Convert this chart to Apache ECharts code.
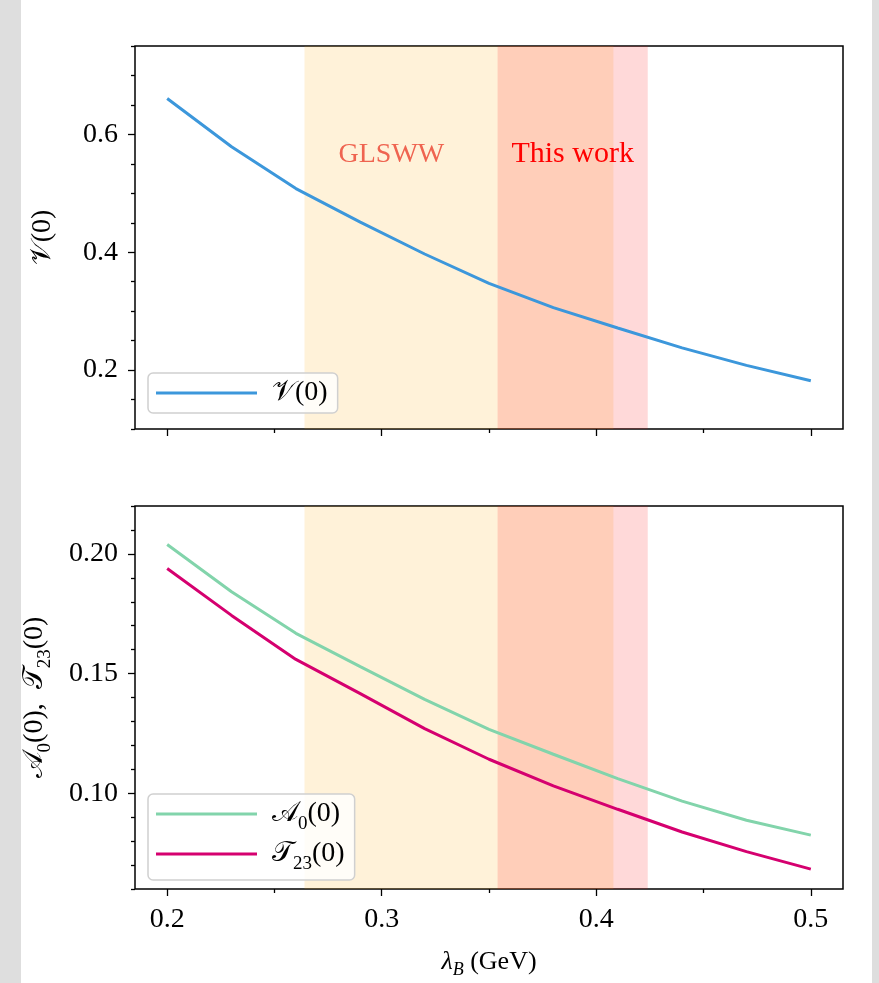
<!DOCTYPE html>
<html>
<head>
<meta charset="utf-8">
<script src="https://cdn.jsdelivr.net/npm/echarts@6/dist/echarts.min.js"></script>
<style>
  html, body { margin: 0; padding: 0; background: #dedede; }
  #sheet { position: absolute; left: 21px; top: 0; width: 851px; height: 983px; background: #ffffff; }
  #chart { position: absolute; left: 0; top: 0; width: 879px; height: 983px; }
</style>
</head>
<body>
<div id="sheet"></div>
<div id="chart"></div>
<script>
// λ_B grid (GeV) and the form factors at q² = 0
const lambdaB = [0.20, 0.23, 0.26, 0.29, 0.32, 0.35, 0.38, 0.41, 0.44, 0.47, 0.50];
const V0  = [0.661, 0.579, 0.508, 0.451, 0.397, 0.347, 0.306, 0.2715, 0.2376, 0.208, 0.182];
const A0  = [0.2039, 0.1842, 0.1668, 0.1529, 0.1392, 0.1267, 0.1163, 0.1061, 0.0967, 0.0887, 0.0825];
const T23 = [0.1939, 0.1743, 0.1559, 0.1416, 0.1270, 0.1142, 0.1031, 0.0933, 0.0838, 0.0756, 0.0683];

// λ_B ranges
const bandGLSWW    = [0.264, 0.408];
const bandThisWork = [0.354, 0.424];

// axis ticks
const xMajor = [0.2, 0.3, 0.4, 0.5];
const xMinor = [0.25, 0.35, 0.45];
const yTopMajor = [0.2, 0.4, 0.6];
const yBotMajor = [0.10, 0.15, 0.20];

const SERIF = '"Liberation Serif", "Times New Roman", "DejaVu Serif", serif';
const pairs = ys => lambdaB.map((x, i) => [x, ys[i]]);

const chart = echarts.init(document.getElementById('chart'), null, { renderer: 'canvas' });

const tickStyle = { color: '#000', width: 1.3 };
function xAxes(gridIndex, withLabels) {
  return [
    {
      type: 'value', gridIndex, min: 0.185, max: 0.515, position: 'bottom',
      axisLine: { show: false }, splitLine: { show: false },
      axisTick: { show: true, inside: false, length: 7, lineStyle: tickStyle, customValues: xMajor },
      axisLabel: { show: withLabels, customValues: xMajor, margin: 17, color: '#000',
                   fontFamily: SERIF, fontSize: 28, formatter: v => String(v) }
    },
    {
      type: 'value', gridIndex, min: 0.185, max: 0.515, position: 'bottom',
      axisLine: { show: false }, splitLine: { show: false },
      axisTick: { show: true, inside: false, length: 4, lineStyle: tickStyle, customValues: xMinor },
      axisLabel: { show: false }
    }
  ];
}
function yAxes(gridIndex, min, max, major, minorStep, digits) {
  const minor = [];
  for (let k = 0; min + k * minorStep <= max + 1e-9; k++) {
    const v = +(min + k * minorStep).toFixed(4);
    if (!major.some(m => Math.abs(m - v) < 1e-9)) minor.push(v);
  }
  return [
    {
      type: 'value', gridIndex, min, max, position: 'left',
      axisLine: { show: false }, splitLine: { show: false },
      axisTick: { show: true, inside: false, length: 7, lineStyle: tickStyle, customValues: major },
      axisLabel: { show: true, customValues: major, margin: 17, color: '#000',
                   fontFamily: SERIF, fontSize: 28, formatter: v => v.toFixed(digits) }
    },
    {
      type: 'value', gridIndex, min, max, position: 'left',
      axisLine: { show: false }, splitLine: { show: false },
      axisTick: { show: true, inside: false, length: 4, lineStyle: tickStyle, customValues: minor },
      axisLabel: { show: false }
    }
  ];
}

const subRich = {
  c: { fontFamily: SERIF, fontSize: 28, color: '#000' },
  i: { fontFamily: SERIF, fontSize: 28, fontStyle: 'italic', color: '#000' },
  n: { fontFamily: SERIF, fontSize: 28, color: '#000' },
  s: { fontFamily: SERIF, fontSize: 19, color: '#000', verticalAlign: 'bottom', lineHeight: 40 }
};
const legendText = {
  'V(0)':   '{c|𝒱}{n|(0)}',
  'A0(0)':  '{c|𝒜}{s|0}{n|(0)}',
  'T23(0)': '{c|𝒯}{s|23}{n|(0)}'
};
const legendBase = {
  orient: 'vertical', left: 148, icon: 'rect', itemWidth: 101, itemHeight: 3,
  itemGap: 6, padding: [6, 10, 6, 8],
  backgroundColor: 'rgba(255,255,255,0.8)', borderColor: '#d0d0d0', borderWidth: 1.5, borderRadius: 5,
  textStyle: { fontFamily: SERIF, fontSize: 28, color: '#000', rich: subRich, padding: [0, 0, 0, 10] },
  formatter: name => legendText[name]
};

const bandArea = {
  silent: true,
  label: { show: false },
  data: [
    [{ xAxis: bandGLSWW[0], itemStyle: { color: 'rgba(255,165,0,0.15)' } }, { xAxis: bandGLSWW[1] }],
    [{ xAxis: bandThisWork[0], itemStyle: { color: 'rgba(255,0,0,0.15)' } }, { xAxis: bandThisWork[1] }]
  ]
};

const gridBase = { left: 135, right: 36, height: 383, show: true, borderColor: '#000', borderWidth: 1.5,
                   backgroundColor: 'transparent', outerBoundsMode: 'none', containLabel: false };

const option = {
  backgroundColor: 'transparent',
  animation: false,
  grid: [
    Object.assign({}, gridBase, { top: 46 }),
    Object.assign({}, gridBase, { top: 506 })
  ],
  xAxis: [...xAxes(0, false), ...xAxes(1, true)],
  yAxis: [...yAxes(0, 0.1, 0.75, yTopMajor, 0.05, 1), ...yAxes(1, 0.06, 0.22, yBotMajor, 0.01, 2)],
  legend: [
    Object.assign({}, legendBase, { top: 373, data: ['V(0)'] }),
    Object.assign({}, legendBase, { top: 794, data: ['A0(0)', 'T23(0)'] })
  ],
  series: [
    {
      name: 'bands-top', type: 'line', xAxisIndex: 0, yAxisIndex: 0, data: [], z: 1,
      markArea: bandArea,
      markPoint: {
        symbol: 'circle', symbolSize: 0, silent: true,
        data: [
          { coord: [0.3045, 0.566], label: { show: true, formatter: 'GLSWW', color: '#ef6450', fontFamily: SERIF, fontSize: 28, position: 'inside' } },
          { coord: [0.389, 0.566], label: { show: true, formatter: 'This work', color: '#ff0000', fontFamily: SERIF, fontSize: 30, position: 'inside' } }
        ]
      }
    },
    {
      name: 'bands-bottom', type: 'line', xAxisIndex: 2, yAxisIndex: 2, data: [], z: 1,
      markArea: bandArea
    },
    {
      name: 'V(0)', type: 'line', xAxisIndex: 0, yAxisIndex: 0, data: pairs(V0), z: 3,
      showSymbol: false, color: '#3c97db', lineStyle: { width: 3, color: '#3c97db' }
    },
    {
      name: 'A0(0)', type: 'line', xAxisIndex: 2, yAxisIndex: 2, data: pairs(A0), z: 3,
      showSymbol: false, color: '#82d4ab', lineStyle: { width: 3, color: '#82d4ab' }
    },
    {
      name: 'T23(0)', type: 'line', xAxisIndex: 2, yAxisIndex: 2, data: pairs(T23), z: 3,
      showSymbol: false, color: '#d5006f', lineStyle: { width: 3, color: '#d5006f' }
    }
  ]
};

// axis titles
Object.assign(option.yAxis[0], {
  name: '{c|𝒱}{n|(0)}', nameLocation: 'middle', nameGap: 78, nameTextStyle: { rich: subRich }
});
Object.assign(option.yAxis[2], {
  name: '{c|𝒜}{s|0}{n|(0),  }{c|𝒯}{s|23}{n|(0)}', nameLocation: 'middle', nameGap: 80,
  nameTextStyle: { rich: subRich }
});
Object.assign(option.xAxis[2], {
  name: '{i|λ}{s|B}{n| (GeV)}', nameLocation: 'middle', nameGap: 56,
  nameTextStyle: { rich: {
    i: { fontFamily: SERIF, fontSize: 26, fontStyle: 'italic', color: '#000', lineHeight: 30 },
    n: { fontFamily: SERIF, fontSize: 26, color: '#000', lineHeight: 30 },
    s: { fontFamily: SERIF, fontSize: 18, fontStyle: 'italic', color: '#000', verticalAlign: 'bottom', lineHeight: 34 }
  } }
});

chart.setOption(option);
</script>
</body>
</html>
